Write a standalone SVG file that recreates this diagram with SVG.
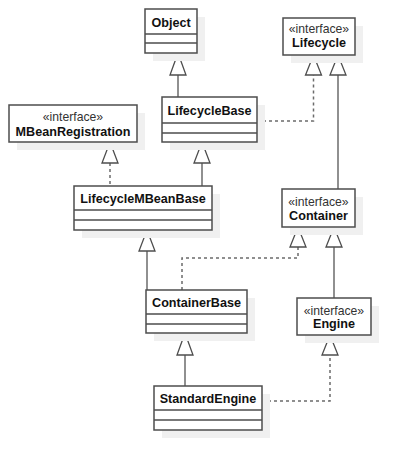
<svg xmlns="http://www.w3.org/2000/svg" width="411" height="470" viewBox="0 0 411 470">
<style>
.sh{fill:#f0f0f0;stroke:none}
.bx{fill:#fff;stroke:#4d4d4d;stroke-width:1.5}
.dv{stroke:#4d4d4d;stroke-width:1.3;fill:none}
.nm{font-family:"Liberation Sans",Arial,sans-serif;font-size:12.6px;font-weight:bold;fill:#111;text-anchor:middle}
.st{font-family:"Liberation Sans",Arial,sans-serif;font-size:12.2px;fill:#333;text-anchor:middle}
.ln{stroke:#6b6b6b;stroke-width:1.5;fill:none}
.dt{stroke:#6b6b6b;stroke-width:1.5;fill:none;stroke-dasharray:3,3}
.tr{fill:#fff;stroke:#4d4d4d;stroke-width:1.3}
</style>
<rect width="411" height="470" fill="#fff"/>
<g id="connectors">
<path class="ln" d="M178,75 V97"/>
<path class="tr" d="M178,53 L186,75 L170,75 Z"/>
<path class="dt" d="M257,121 H313.5 V75"/>
<path class="tr" d="M313.5,55 L321.5,75 L305.5,75 Z"/>
<path class="ln" d="M338,75 V189"/>
<path class="tr" d="M338,55 L346,75 L330,75 Z"/>
<path class="dt" d="M110,163 V186"/>
<path class="tr" d="M110,142 L118,163 L102,163 Z"/>
<path class="ln" d="M202,163 V186"/>
<path class="tr" d="M202,142 L210,163 L194,163 Z"/>
<path class="ln" d="M147,251 V290"/>
<path class="tr" d="M147,230 L155,251 L139,251 Z"/>
<path class="dt" d="M182,290 V258 H298 V247"/>
<path class="tr" d="M298,227 L306,247 L290,247 Z"/>
<path class="ln" d="M334,247 V298"/>
<path class="tr" d="M334,227 L342,247 L326,247 Z"/>
<path class="ln" d="M185,355 V386"/>
<path class="tr" d="M185,333 L193,355 L177,355 Z"/>
<path class="dt" d="M262,401 H330 V355"/>
<path class="tr" d="M330,335 L338,355 L322,355 Z"/>
</g>
<g id="Object">
<rect class="sh" x="153" y="17" width="52" height="44"/>
<rect class="bx" x="145" y="9" width="52" height="44"/>
<path class="dv" d="M145,34 H197 M145,43 H197"/>
<text class="nm" x="171" y="26.5">Object</text>
</g>
<g id="Lifecycle">
<rect class="sh" x="291" y="26" width="72" height="37"/>
<rect class="bx" x="283" y="18" width="72" height="37"/>
<text class="st" x="319" y="33">«interface»</text>
<text class="nm" x="319" y="47">Lifecycle</text>
</g>
<g id="LifecycleBase">
<rect class="sh" x="170" y="105" width="95" height="45"/>
<rect class="bx" x="162" y="97" width="95" height="45"/>
<path class="dv" d="M162,123 H257 M162,133 H257"/>
<text class="nm" x="209.5" y="114.5">LifecycleBase</text>
</g>
<g id="MBeanRegistration">
<rect class="sh" x="17" y="113" width="128" height="37"/>
<rect class="bx" x="9" y="105" width="128" height="37"/>
<text class="st" x="73" y="121">«interface»</text>
<text class="nm" x="73" y="136">MBeanRegistration</text>
</g>
<g id="LifecycleMBeanBase">
<rect class="sh" x="82" y="194" width="138" height="44"/>
<rect class="bx" x="74" y="186" width="138" height="44"/>
<path class="dv" d="M74,210 H212 M74,220 H212"/>
<text class="nm" x="143" y="203">LifecycleMBeanBase</text>
</g>
<g id="Container">
<rect class="sh" x="290" y="197" width="73" height="38"/>
<rect class="bx" x="282" y="189" width="73" height="38"/>
<text class="st" x="318.5" y="206">«interface»</text>
<text class="nm" x="318.5" y="220">Container</text>
</g>
<g id="ContainerBase">
<rect class="sh" x="154" y="298" width="101" height="43"/>
<rect class="bx" x="146" y="290" width="101" height="43"/>
<path class="dv" d="M146,314 H247 M146,324 H247"/>
<text class="nm" x="196.5" y="307">ContainerBase</text>
</g>
<g id="Engine">
<rect class="sh" x="305" y="306" width="74" height="37"/>
<rect class="bx" x="297" y="298" width="74" height="37"/>
<text class="st" x="334" y="314.5">«interface»</text>
<text class="nm" x="334" y="328">Engine</text>
</g>
<g id="StandardEngine">
<rect class="sh" x="162" y="394" width="108" height="44"/>
<rect class="bx" x="154" y="386" width="108" height="44"/>
<path class="dv" d="M154,410 H262 M154,420 H262"/>
<text class="nm" x="208" y="403">StandardEngine</text>
</g>
</svg>
